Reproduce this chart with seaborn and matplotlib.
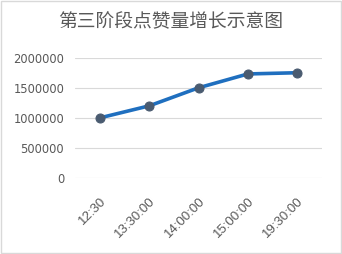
import matplotlib
matplotlib.use("Agg")
import matplotlib.pyplot as plt
import seaborn as sns
import pandas as pd
from matplotlib.patches import Rectangle

times = ["12:30", "13:30:00", "14:00:00", "15:00:00", "19:30:00"]
likes = [1000000, 1200000, 1500000, 1730000, 1750000]
yticks = [0, 500000, 1000000, 1500000, 2000000]
title = "第三阶段点赞量增长示意图"

sns.set_theme(style="white")
plt.rcParams['font.family'] = ['Noto Sans CJK SC', 'DejaVu Sans']

df = pd.DataFrame({"time": times, "likes": likes})

fig = plt.figure(figsize=(3.42, 2.54), dpi=100)
ax = fig.add_axes([75.35 / 342, 1 - 178 / 254, 246.5 / 342, (178 - 57.7) / 254])

sns.lineplot(data=df, x="time", y="likes", ax=ax, sort=False,
             color="#1F6FBF", linewidth=2.6, marker="o", markersize=6.5,
             markerfacecolor="#4A5B70", markeredgecolor="#4A5B70", zorder=3)

ax.set_xlim(-0.5, len(times) - 0.5)
ax.set_ylim(0, 2000000)
ax.set_yticks(yticks)
ax.set_yticklabels([str(v) for v in yticks], color="#595959", fontsize=8.3,
                   family=['DejaVu Sans'])
ax.set_xticks(range(len(times)))
ax.set_xticklabels(times, rotation=45, ha="right", va="top", rotation_mode="anchor",
                   color="#595959", fontsize=9.5, family=['Liberation Sans'])
ax.tick_params(axis="y", length=0, pad=8)
ax.tick_params(axis="x", length=0, pad=12)
ax.grid(axis="y", color="#D9D9D9", linewidth=0.8)
ax.set_axisbelow(True)
for s in ax.spines.values():
    s.set_visible(False)
ax.set_xlabel("")
ax.set_ylabel("")

fig.text(0.5, 1 - 22 / 254, title, ha="center", va="center",
         fontsize=13.5, color="#595959")

fig.patches.append(Rectangle((0.002, 0.003), 0.995, 0.993, transform=fig.transFigure,
                             fill=False, edgecolor="#D9D9D9", linewidth=1))

fig.savefig("out.png", dpi=100)
